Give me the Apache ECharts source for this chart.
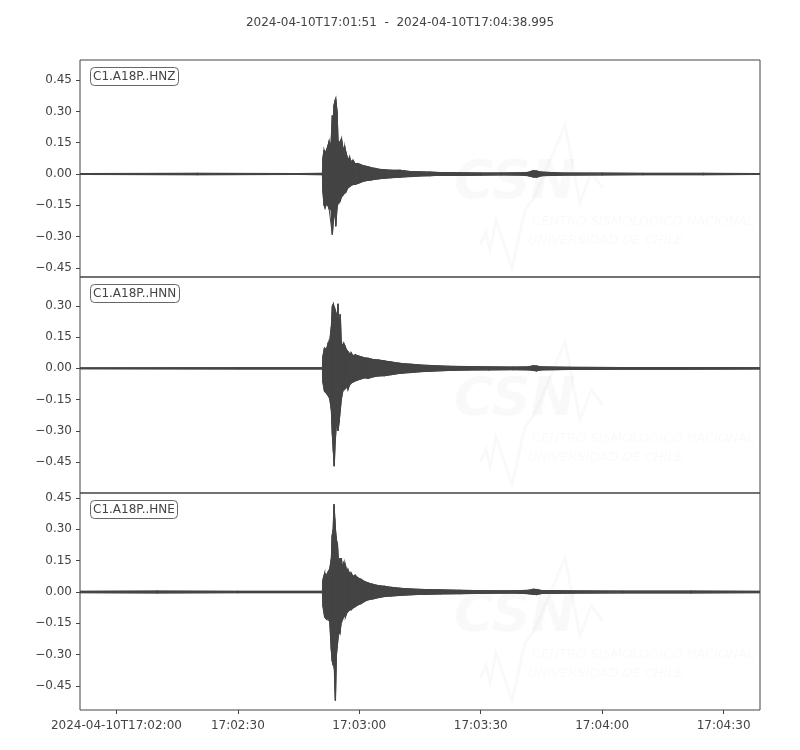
<!DOCTYPE html>
<html>
<head>
<meta charset="utf-8">
<script src="https://cdn.jsdelivr.net/npm/echarts@6/dist/echarts.min.js"></script>
<style>
html, body { margin: 0; padding: 0; background: #fff; }
#main { width: 800px; height: 750px; }
</style>
</head>
<body>
<div id="main"></div>
<script>
// time in seconds after 17:00:00, amplitudes (upper / lower envelope)
var chartTitle = '2024-04-10T17:01:51  -  2024-04-10T17:04:38.995';
var traceNames = ['C1.A18P..HNZ', 'C1.A18P..HNN', 'C1.A18P..HNE'];
var xTicks = [120, 150, 180, 210, 240, 270];
var yTicks1 = [-0.45, -0.30, -0.15, 0, 0.15, 0.30, 0.45];
var yTicks2 = [-0.45, -0.30, -0.15, 0, 0.15, 0.30];
var yTicks3 = [-0.45, -0.30, -0.15, 0, 0.15, 0.30, 0.45];
var yRange1 = [-0.493, 0.546];
var yRange2 = [-0.599, 0.439];
var yRange3 = [-0.565, 0.474];

var hnzT  = [111, 140, 165, 170.9, 171.04, 171.3, 171.54, 172.03, 172.53, 173.02, 173.34, 173.6, 173.76, 174.0, 174.18, 174.5, 174.75, 175.24, 175.6, 175.99, 176.4, 176.73, 177.22, 177.6, 177.96, 178.5, 178.95, 179.69, 180.3, 180.93, 182.16, 183.0, 183.89, 185, 186.36, 188, 190.07, 192.5, 195, 197.5, 199.95, 204.9, 210, 215, 220, 221.8, 223.0, 223.8, 225, 230, 240, 250, 265, 278.995];
var hnzHi = [0.002, 0.003, 0.002, 0.003, 0.08, 0.115, 0.10, 0.12, 0.155, 0.14, 0.28, 0.25, 0.33, 0.35, 0.36, 0.30, 0.16, 0.15, 0.17, 0.12, 0.13, 0.10, 0.07, 0.08, 0.06, 0.065, 0.05, 0.05, 0.045, 0.04, 0.035, 0.03, 0.027, 0.022, 0.02, 0.018, 0.018, 0.012, 0.01, 0.009, 0.007, 0.006, 0.005, 0.005, 0.006, 0.008, 0.016, 0.014, 0.009, 0.005, 0.004, 0.003, 0.003, 0.002];
var hnzLo = [-0.002, -0.003, -0.002, -0.003, -0.09, -0.15, -0.16, -0.14, -0.165, -0.17, -0.29, -0.22, -0.20, -0.18, -0.25, -0.16, -0.14, -0.13, -0.11, -0.10, -0.09, -0.085, -0.065, -0.06, -0.055, -0.05, -0.05, -0.045, -0.04, -0.035, -0.03, -0.028, -0.025, -0.022, -0.02, -0.017, -0.015, -0.012, -0.009, -0.008, -0.006, -0.006, -0.005, -0.004, -0.005, -0.008, -0.014, -0.015, -0.008, -0.005, -0.004, -0.003, -0.003, -0.002];

var hnnT  = [111, 150, 170.9, 171.04, 171.4, 171.9, 172.28, 172.7, 173.1, 173.35, 173.6, 173.8, 174.05, 174.3, 174.55, 174.75, 175.0, 175.3, 175.55, 175.8, 176.1, 176.4, 176.8, 177.2, 177.6, 178.0, 178.5, 179.0, 179.7, 180.5, 181.3, 182.2, 183.5, 184.8, 186.3, 188, 190, 192.5, 195, 198, 202, 207, 212, 218, 221.8, 223.0, 223.8, 225, 232, 245, 260, 278.995];
var hnnHi = [0.002, 0.003, 0.003, 0.06, 0.098, 0.09, 0.12, 0.13, 0.20, 0.30, 0.31, 0.29, 0.28, 0.26, 0.24, 0.31, 0.20, 0.26, 0.12, 0.11, 0.12, 0.11, 0.09, 0.08, 0.07, 0.075, 0.06, 0.065, 0.06, 0.055, 0.05, 0.048, 0.042, 0.04, 0.035, 0.03, 0.024, 0.02, 0.016, 0.013, 0.01, 0.008, 0.007, 0.006, 0.007, 0.012, 0.011, 0.007, 0.005, 0.004, 0.004, 0.003];
var hnnLo = [-0.002, -0.003, -0.003, -0.07, -0.11, -0.12, -0.13, -0.145, -0.20, -0.32, -0.40, -0.47, -0.35, -0.28, -0.25, -0.30, -0.26, -0.20, -0.15, -0.12, -0.10, -0.10, -0.09, -0.10, -0.08, -0.07, -0.065, -0.06, -0.055, -0.05, -0.045, -0.048, -0.04, -0.036, -0.035, -0.03, -0.024, -0.02, -0.016, -0.013, -0.01, -0.008, -0.007, -0.006, -0.007, -0.01, -0.012, -0.007, -0.005, -0.004, -0.004, -0.003];

var hneT  = [111, 130, 150, 170.9, 171.04, 171.45, 171.9, 172.28, 172.7, 173.1, 173.3, 173.55, 173.76, 173.95, 174.1, 174.35, 174.6, 174.9, 175.2, 175.57, 175.9, 176.2, 176.56, 176.9, 177.2, 177.6, 178.0, 178.5, 179.0, 179.7, 180.5, 181.3, 182.2, 183.5, 184.8, 186.3, 188, 190, 193, 196, 200, 205, 212, 218, 221.8, 223.0, 223.8, 225, 232, 245, 262, 278.995];
var hneHi = [0.003, 0.004, 0.003, 0.003, 0.06, 0.09, 0.08, 0.095, 0.11, 0.16, 0.27, 0.30, 0.42, 0.35, 0.30, 0.25, 0.23, 0.13, 0.16, 0.16, 0.12, 0.14, 0.13, 0.10, 0.107, 0.09, 0.091, 0.075, 0.08, 0.067, 0.06, 0.05, 0.043, 0.036, 0.03, 0.027, 0.022, 0.018, 0.014, 0.012, 0.01, 0.008, 0.006, 0.006, 0.008, 0.013, 0.012, 0.007, 0.005, 0.004, 0.004, 0.003];
var hneLo = [-0.003, -0.004, -0.003, -0.003, -0.07, -0.12, -0.13, -0.125, -0.14, -0.28, -0.33, -0.35, -0.30, -0.45, -0.52, -0.30, -0.25, -0.19, -0.20, -0.14, -0.13, -0.11, -0.12, -0.10, -0.093, -0.085, -0.085, -0.075, -0.07, -0.061, -0.055, -0.045, -0.037, -0.032, -0.026, -0.021, -0.019, -0.016, -0.013, -0.011, -0.009, -0.008, -0.006, -0.005, -0.008, -0.011, -0.012, -0.007, -0.005, -0.004, -0.004, -0.003];

var traces = [
    { t: hnzT, hi: hnzHi, lo: hnzLo, ticks: yTicks1, range: yRange1 },
    { t: hnnT, hi: hnnHi, lo: hnnLo, ticks: yTicks2, range: yRange2 },
    { t: hneT, hi: hneHi, lo: hneLo, ticks: yTicks3, range: yRange3 }
];

var panelTop = [60, 277, 493];
var panelHeight = [217, 216, 217];
var textColor = '#444';
var lineColor = '#444';
var fontName = 'DejaVu Sans';

function fmtY(v) {
    var s = Math.abs(v).toFixed(2);
    if (v < -1e-9) {
        s = '\u2212' + s;
    }
    return s;
}

function fmtX(v) {
    var m = Math.floor(v / 60);
    var s = Math.round(v - m * 60);
    if (s < 10) {
        s = '0' + s;
    }
    if (m < 10) {
        m = '0' + m;
    }
    var txt = '17:' + m + ':' + s;
    if (v === xTicks[0]) {
        txt = '2024-04-10T' + txt;
    }
    return txt;
}

// one filled quad between two neighbouring envelope samples
function renderBand(params, api) {
    var a = api.coord([api.value(0), api.value(1)]);
    var b = api.coord([api.value(3), api.value(4)]);
    var c = api.coord([api.value(3), api.value(5)]);
    var d = api.coord([api.value(0), api.value(2)]);
    return {
        type: 'polygon',
        shape: { points: [a, b, c, d] },
        style: { fill: lineColor, stroke: lineColor, lineWidth: 1.2 }
    };
}

var grids = [], xAxes = [], yAxes = [], series = [], titles = [], graphics = [];

titles.push({
    text: chartTitle,
    left: 'center',
    top: 12,
    textStyle: { fontFamily: fontName, fontSize: 12, fontWeight: 'normal', color: textColor }
});

for (var i = 0; i < 3; i++) {
    var tr = traces[i];
    grids.push({
        left: 80, right: 40, top: panelTop[i], height: panelHeight[i],
        show: true, borderColor: lineColor, borderWidth: 1, backgroundColor: 'transparent'
    });
    var last = (i == 2);
    xAxes.push({
        type: 'value', gridIndex: i, min: 111, max: 278.995,
        axisLine: { show: false, onZero: false },
        splitLine: { show: false },
        axisTick: { show: last, length: 4, customValues: xTicks, lineStyle: { color: lineColor } },
        axisLabel: {
            show: last, customValues: xTicks, formatter: fmtX, margin: 10,
            color: textColor, fontFamily: fontName, fontSize: 12
        }
    });
    yAxes.push({
        type: 'value', gridIndex: i, min: tr.range[0], max: tr.range[1],
        axisLine: { show: false, onZero: false },
        splitLine: { show: false },
        axisTick: { show: true, length: 4, customValues: tr.ticks, lineStyle: { color: lineColor } },
        axisLabel: {
            customValues: tr.ticks, formatter: fmtY, margin: 8,
            color: textColor, fontFamily: fontName, fontSize: 12
        }
    });

    var hiData = [], loData = [], bandData = [];
    for (var k = 0; k < tr.t.length; k++) {
        hiData.push([tr.t[k], tr.hi[k]]);
        loData.push([tr.t[k], tr.lo[k]]);
        if (k < tr.t.length - 1) {
            bandData.push([tr.t[k], tr.hi[k], tr.lo[k], tr.t[k + 1], tr.hi[k + 1], tr.lo[k + 1]]);
        }
    }
    series.push({
        type: 'custom', xAxisIndex: i, yAxisIndex: i, data: bandData,
        renderItem: renderBand, silent: true, clip: true,
        encode: { x: [0, 3], y: [1, 2, 4, 5] }
    });
    series.push({
        type: 'line', xAxisIndex: i, yAxisIndex: i, data: hiData,
        symbol: 'none', silent: true, lineStyle: { color: lineColor, width: 1 }
    });
    series.push({
        type: 'line', xAxisIndex: i, yAxisIndex: i, data: loData,
        symbol: 'none', silent: true, lineStyle: { color: lineColor, width: 1 }
    });

    titles.push({
        text: traceNames[i],
        left: 90,
        top: panelTop[i] + 7,
        padding: [3, 3, 3, 3],
        borderColor: '#666',
        borderWidth: 1,
        borderRadius: 4,
        textStyle: { fontFamily: fontName, fontSize: 12, fontWeight: 'normal', color: textColor, lineHeight: 13 }
    });

    // faint CSN watermark
    var oy = panelTop[i];
    graphics.push({
        type: 'polyline', z: 0, silent: true,
        shape: { points: [[480, oy + 185], [486, oy + 172], [490, oy + 190], [496, oy + 160], [512, oy + 208], [525, oy + 150], [534, oy + 138], [565, oy + 65], [580, oy + 143], [591, oy + 113], [603, oy + 128]] },
        style: { stroke: 'rgba(0,0,0,0.025)', lineWidth: 3, fill: null }
    });
    graphics.push({
        type: 'text', z: 0, silent: true, x: 454, y: oy + 97,
        style: { text: 'CSN', font: 'italic bold 54px "DejaVu Sans"', fill: 'rgba(0,0,0,0.025)' }
    });
    graphics.push({
        type: 'text', z: 0, silent: true, x: 532, y: oy + 155,
        style: { text: 'CENTRO SISMOLÓGICO NACIONAL', font: 'italic 13px "DejaVu Sans"', fill: 'rgba(0,0,0,0.025)' }
    });
    graphics.push({
        type: 'text', z: 0, silent: true, x: 528, y: oy + 174,
        style: { text: 'UNIVERSIDAD DE CHILE', font: 'italic 13px "DejaVu Sans"', fill: 'rgba(0,0,0,0.025)' }
    });
}

var myChart = echarts.init(document.getElementById('main'));
myChart.setOption({
    animation: false,
    backgroundColor: '#fff',
    title: titles,
    grid: grids,
    xAxis: xAxes,
    yAxis: yAxes,
    series: series,
    graphic: graphics
});
</script>
</body>
</html>
